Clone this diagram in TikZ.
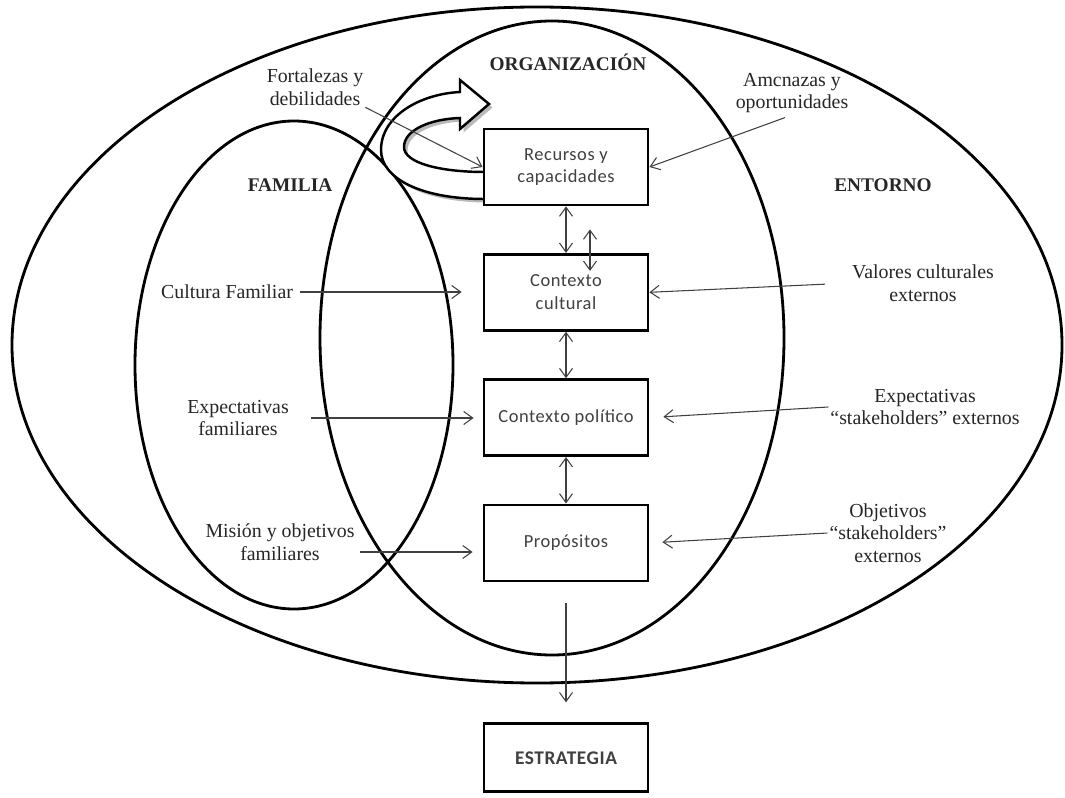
\documentclass[tikz,border=0pt]{standalone}
\usepackage{fontspec}
\setmainfont{Liberation Serif}
\newfontfamily\cajafont{Carlito}[LetterSpace=3]
\usetikzlibrary{arrows.meta, positioning, shadows}

\begin{document}
\begin{tikzpicture}[
  x=0.2mm, y=-0.2mm,
  node distance=0.93cm,
  caja/.style={draw, fill=white, line width=1.6pt, minimum width=3.28cm,
               minimum height=1.52cm, align=center, text=black!75,
               font=\cajafont\fontsize{10.5}{13}\selectfont},
  zona/.style={line width=1.6pt},
  ozn/.style={align=center, inner sep=1pt, text=black!85,
              font=\fontsize{11.3}{12.8}\selectfont},
  tit/.style={inner sep=1pt, text=black!85,
              font=\bfseries\fontsize{11}{13}\selectfont},
  pr/.style={-{Straight Barb[length=1.8mm, width=2.6mm]}, black!75, line width=0.6pt},
  dv/.style={pr, {Straight Barb[length=1.8mm, width=2.6mm]}-{Straight Barb[length=1.8mm, width=2.6mm]}}
]
  \useasboundingbox (0,0) rectangle (1065,798);

  % zonas
  \draw[zona] (537,345) ellipse [x radius=10.5cm, y radius=6.76cm];
  \draw[zona] (552,338) ellipse [x radius=4.64cm, y radius=6.34cm];
  \draw[zona] (294,365) ellipse [x radius=3.18cm, y radius=4.88cm];

  % flecha curva
  \draw[line width=1.4pt, fill=white,
        drop shadow={shadow xshift=2pt, shadow yshift=-2pt, opacity=0.45, fill=black!60}]
    (485,199) .. controls (420,199) and (381,178) .. (381,150)
    .. controls (381,116) and (420,94) .. (460,92)
    -- (460,80) -- (489,104) -- (460,129) -- (460,118)
    .. controls (430,119) and (404,130) .. (404,147)
    .. controls (404,163) and (440,172) .. (485,172) -- cycle;

  % cajas
  \node[caja] (rec) at (566,167) {Recursos y\\capacidades};
  \node[caja, below=of rec] (cc) {Contexto\\cultural};
  \node[caja, below=of cc] (cp) {Contexto político};
  \node[caja, below=of cp] (prop) {Propósitos};
  \node[caja, below=2.8cm of prop, minimum height=1.36cm,
        font=\cajafont\bfseries\fontsize{11}{13}\selectfont] (estr) {ESTRATEGIA};

  % titulos
  \node[tit] (torg) at (568,62) {ORGANIZACIÓN};
  \node[tit] (tfam) at (290,185) {FAMILIA};
  \node[tit] (tent) at (883,185) {ENTORNO};

  % etiquetas
  \node[ozn] (fort) at (315,87) {Fortalezas y\\debilidades};
  \node[ozn] (amen) at (792,93) {Amcnazas y\\oportunidades};
  \node[ozn] (culfam) at (227,292) {Cultura Familiar};
  \node[ozn] (expfam) at (238,418) {Expectativas\\familiares};
  \node[ozn] (misfam) at (280,542) {Misión y objetivos\\familiares};
  \node[ozn] (valext) at (923,283) {Valores culturales\\externos};
  \node[ozn] (expext) at (925,407) {Expectativas\\“stakeholders” externos};
  \node[ozn] (objext) at (888,533) {Objetivos\\“stakeholders”\\externos};
  \coordinate (misout) at ([yshift=-0.2cm]misfam.east);

  % flechas
  \draw[dv] (rec) -- (cc);
  \draw[dv] ([xshift=0.48cm, yshift=-0.46cm]rec.south) -- ([xshift=0.48cm, yshift=-0.36cm]cc.north);
  \draw[dv] (cc) -- (cp);
  \draw[dv] (cp) -- (prop);
  \draw[pr, shorten <=0.42cm, shorten >=0.4cm] (prop) -- (estr);

  \draw[pr] (fort.south east) -- (rec.west);
  \draw[pr, shorten <=0.15cm] (amen.south) -- (rec.east);
  \draw[pr, shorten <=0.1cm, shorten >=0.42cm] (culfam.east) -- (culfam.east -| cc.west);
  \draw[pr, shorten <=0.4cm, shorten >=0.18cm] (expfam.east) -- (expfam.east -| cp.west);
  \draw[pr, shorten <=0.06cm, shorten >=0.2cm] (misout) -- (misout -| prop.west);
  \draw[pr, shorten <=0.5cm] (valext.west) -- (cc.east);
  \draw[pr, shorten >=0.28cm] (expext.west) -- (cp.east);
  \draw[pr, shorten >=0.26cm] (objext.west) -- (prop.east);
\end{tikzpicture}
\end{document}
